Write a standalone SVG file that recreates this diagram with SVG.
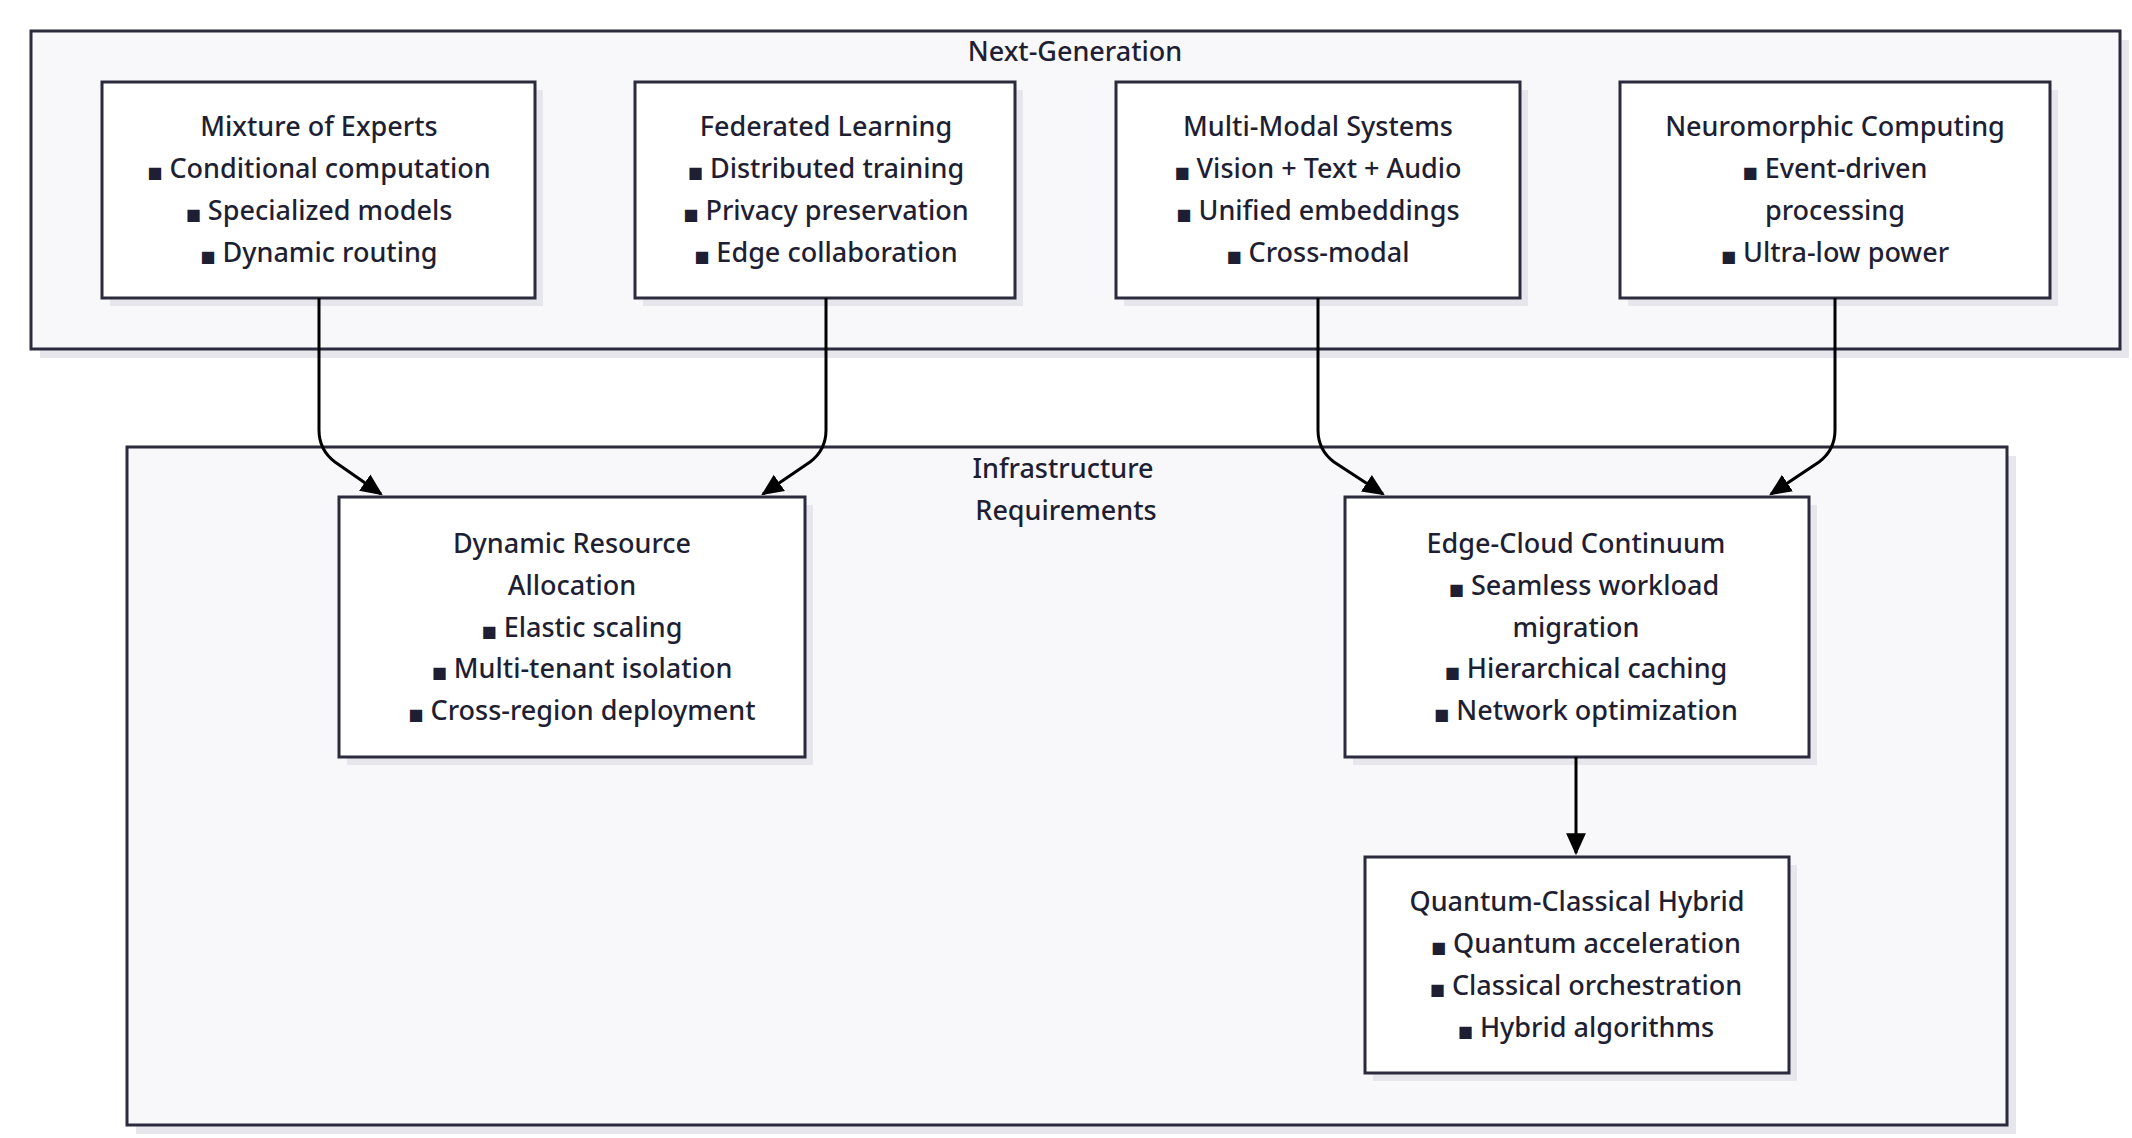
<svg xmlns="http://www.w3.org/2000/svg" width="2132" height="1138" viewBox="0 0 2132 1138">
<style>
.cl{fill:#f8f8fa;stroke:#2b2b3d;stroke-width:3}
.sh{fill:#e6e6ec}
.nd{fill:#fff;stroke:#2b2b3d;stroke-width:3}
text{font-family:"Noto Sans","DejaVu Sans",sans-serif;font-size:27px;font-weight:500;fill:#1f1f33;text-anchor:middle}
.b{font-size:16px}
.e{fill:none;stroke:#000;stroke-width:3;marker-end:url(#a)}
</style>
<defs><marker id="a" viewBox="0 0 20 20" refX="18" refY="10" markerWidth="22" markerHeight="22" orient="auto" markerUnits="userSpaceOnUse"><path d="M0,1L20,10L0,19z" fill="#000"/></marker></defs>
<rect width="2132" height="1138" fill="#fff"/>
<g id="nextgen">
<rect class="sh" x="40" y="40" width="2089" height="318"/>
<rect class="cl" x="31" y="31" width="2089" height="318"/>
<text x="1075" y="61">Next-Generation</text>
</g>
<g id="infra">
<rect class="sh" x="136" y="456" width="1880" height="678"/>
<rect class="cl" x="127" y="447" width="1880" height="678"/>
<text x="1063" y="478">Infrastructure</text>
<text x="1066" y="520">Requirements</text>
</g>
<g id="moe"><rect class="sh" x="110" y="90" width="433" height="216"/><rect class="nd" x="102" y="82" width="433" height="216"/>
<text x="319" y="136">Mixture of Experts</text><text x="319" y="178"><tspan class="b">■</tspan> Conditional computation</text><text x="319" y="220"><tspan class="b">■</tspan> Specialized models</text><text x="319" y="262"><tspan class="b">■</tspan> Dynamic routing</text></g>
<g id="fl"><rect class="sh" x="643" y="90" width="380" height="216"/><rect class="nd" x="635" y="82" width="380" height="216"/>
<text x="826" y="136">Federated Learning</text><text x="826" y="178"><tspan class="b">■</tspan> Distributed training</text><text x="826" y="220"><tspan class="b">■</tspan> Privacy preservation</text><text x="826" y="262"><tspan class="b">■</tspan> Edge collaboration</text></g>
<g id="mm"><rect class="sh" x="1124" y="90" width="404" height="216"/><rect class="nd" x="1116" y="82" width="404" height="216"/>
<text x="1318" y="136">Multi-Modal Systems</text><text x="1318" y="178"><tspan class="b">■</tspan> Vision + Text + Audio</text><text x="1318" y="220"><tspan class="b">■</tspan> Unified embeddings</text><text x="1318" y="262"><tspan class="b">■</tspan> Cross-modal</text></g>
<g id="nc"><rect class="sh" x="1628" y="90" width="430" height="216"/><rect class="nd" x="1620" y="82" width="430" height="216"/>
<text x="1835" y="136">Neuromorphic Computing</text><text x="1835" y="178"><tspan class="b">■</tspan> Event-driven</text><text x="1835" y="220">processing</text><text x="1835" y="262"><tspan class="b">■</tspan> Ultra-low power</text></g>
<g id="dra"><rect class="sh" x="347" y="505" width="466" height="260"/><rect class="nd" x="339" y="497" width="466" height="260"/>
<text x="572" y="553">Dynamic Resource</text><text x="572" y="595">Allocation</text><text x="582" y="637"><tspan class="b">■</tspan> Elastic scaling</text><text x="582" y="678"><tspan class="b">■</tspan> Multi-tenant isolation</text><text x="582" y="720"><tspan class="b">■</tspan> Cross-region deployment</text></g>
<g id="ecc"><rect class="sh" x="1353" y="505" width="464" height="260"/><rect class="nd" x="1345" y="497" width="464" height="260"/>
<text x="1576" y="553">Edge-Cloud Continuum</text><text x="1584" y="595"><tspan class="b">■</tspan> Seamless workload</text><text x="1576" y="637">migration</text><text x="1586" y="678"><tspan class="b">■</tspan> Hierarchical caching</text><text x="1586" y="720"><tspan class="b">■</tspan> Network optimization</text></g>
<g id="qch"><rect class="sh" x="1373" y="865" width="424" height="216"/><rect class="nd" x="1365" y="857" width="424" height="216"/>
<text x="1577" y="911">Quantum-Classical Hybrid</text><text x="1586" y="953"><tspan class="b">■</tspan> Quantum acceleration</text><text x="1586" y="995"><tspan class="b">■</tspan> Classical orchestration</text><text x="1586" y="1037"><tspan class="b">■</tspan> Hybrid algorithms</text></g>
<g id="edges">
<path class="e" d="M319,298V430Q319,450 335,462L381,494"/>
<path class="e" d="M826,298V430Q826,450 810,462L763,494"/>
<path class="e" d="M1318,298V430Q1318,450 1334,462L1383,494"/>
<path class="e" d="M1835,298V430Q1835,450 1819,462L1771,494"/>
<path class="e" d="M1576,757V853"/>
</g>
</svg>
